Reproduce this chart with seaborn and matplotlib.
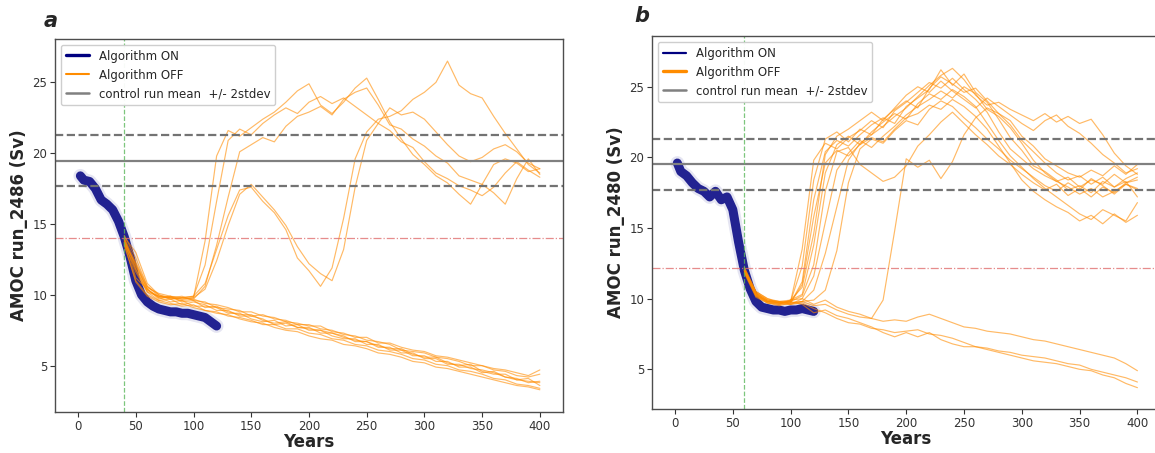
import matplotlib
matplotlib.use("Agg")
import pandas as pd
import matplotlib.pyplot as plt
import seaborn as sns
from matplotlib.lines import Line2D

sns.set_style("ticks")
plt.rcParams["font.family"] = ["DejaVu Sans"]

# ------------------------------------------------------------------
# Panel a : run_2486
# ------------------------------------------------------------------
on_years = [2, 5, 10, 15, 20, 25, 30, 35, 40, 45, 50, 55, 60, 65, 70, 75,
            80, 85, 90, 95, 100, 105, 110, 115, 120]
a_on = [18.4, 18.1, 18.0, 17.5, 16.7, 16.4, 16.0, 15.2, 14.1, 12.7, 11.0, 10.0, 9.5,
        9.2, 9.0, 8.9, 8.8, 8.8, 8.7, 8.7, 8.6, 8.5, 8.4, 8.1, 7.8]

a_off_years = list(range(40, 401, 10))
a_off = {
    "d1": [14.2, 12.6, 10.6, 9.9, 9.8, 9.9, 9.6, 9.5, 9.1, 9.0, 8.9, 8.5, 8.6, 8.3, 8.2, 7.9, 7.9, 7.6, 7.5,
           7.2, 7.1, 6.8, 6.7, 6.5, 6.1, 6.0, 5.9, 5.6, 5.5, 5.3, 5.0, 5.0, 4.7, 4.6, 4.3, 4.2, 4.4],
    "d2": [13.6, 10.9, 9.9, 9.5, 9.3, 9.4, 9.1, 8.9, 8.8, 8.5, 8.4, 8.2, 7.9, 7.9, 7.6, 7.6, 7.3, 7.2, 6.9,
           6.8, 6.5, 6.4, 6.1, 6.0, 5.8, 5.5, 5.4, 5.1, 5.0, 4.7, 4.6, 4.4, 4.1, 4.0, 3.7, 3.6, 3.4],
    "d3": [14.0, 11.8, 10.2, 9.6, 9.7, 9.3, 9.5, 9.3, 8.9, 8.9, 8.5, 8.5, 8.3, 7.9, 8.0, 7.7, 7.7, 7.3, 7.3,
           7.1, 6.7, 6.7, 6.3, 6.3, 5.9, 5.9, 5.5, 5.5, 5.1, 5.1, 4.8, 4.7, 4.5, 4.2, 4.1, 3.8, 3.9],
    "d4": [13.7, 12.2, 10.4, 9.8, 9.5, 9.6, 9.2, 9.2, 9.1, 8.7, 8.7, 8.3, 8.1, 8.2, 7.8, 7.9, 7.5, 7.5, 7.1,
           6.9, 6.9, 6.5, 6.5, 6.1, 6.1, 5.7, 5.7, 5.3, 5.3, 4.9, 4.9, 4.5, 4.6, 4.2, 4.0, 4.1, 3.6],
    "d5": [13.9, 11.2, 10.4, 9.7, 9.9, 9.5, 9.6, 9.1, 9.2, 8.8, 8.6, 8.6, 8.2, 8.0, 8.1, 7.7, 7.6, 7.5, 7.3,
           7.0, 6.8, 6.7, 6.4, 6.2, 6.2, 5.8, 5.6, 5.6, 5.2, 5.0, 5.1, 4.6, 4.4, 4.4, 4.0, 3.9, 3.8],
    "d6": [13.5, 11.0, 10.0, 9.6, 9.4, 9.2, 9.3, 8.9, 8.7, 8.6, 8.3, 8.1, 8.0, 7.7, 7.5, 7.4, 7.1, 6.9, 6.8,
           6.5, 6.4, 6.2, 5.9, 5.8, 5.6, 5.3, 5.2, 4.9, 4.8, 4.6, 4.4, 4.2, 4.0, 3.8, 3.6, 3.5, 3.3],
    "d7": [14.1, 13.0, 10.8, 10.0, 9.7, 9.8, 9.7, 9.4, 9.3, 9.1, 8.8, 8.8, 8.5, 8.4, 8.1, 8.0, 7.8, 7.8, 7.4,
           7.3, 7.0, 7.0, 6.6, 6.6, 6.3, 6.1, 6.0, 5.7, 5.6, 5.4, 5.2, 5.0, 4.8, 4.7, 4.5, 4.3, 4.7],
    "u1": [13.9, 12.0, 10.4, 9.8, 9.9, 9.7, 9.8, 13.8, 19.8, 21.6, 21.2, 21.8, 22.4, 22.9, 23.6, 24.4, 24.9,
           23.4, 22.8, 23.6, 24.6, 25.3, 23.8, 22.2, 21.0, 19.9, 19.2, 18.4, 17.9, 17.1, 16.4, 17.8, 19.2,
           19.6, 19.3, 18.7, 18.9],
    "u2": [13.7, 11.6, 10.2, 9.9, 9.7, 9.8, 9.9, 12.1, 16.6, 20.9, 21.7, 21.3, 22.1, 22.7, 23.2, 22.8, 23.6,
           24.0, 23.5, 23.9, 23.3, 22.7, 22.1, 21.6, 20.8, 20.4, 19.4, 18.6, 18.2, 17.7, 17.4, 17.0, 17.6,
           18.6, 19.4, 18.8, 18.3],
    "u3": [14.0, 12.3, 10.6, 10.0, 9.8, 9.6, 9.7, 10.6, 13.5, 16.9, 20.1, 20.6, 21.1, 20.8, 21.9, 22.6, 22.9,
           23.3, 22.7, 23.8, 24.3, 24.6, 23.4, 22.0, 21.7, 21.0, 20.5, 19.8, 19.3, 18.4, 18.1, 17.8, 17.2,
           16.4, 18.2, 19.6, 18.5],
    "v1": [13.8, 12.1, 10.5, 10.1, 9.9, 9.8, 9.9, 10.8, 13.2, 15.6, 17.4, 17.6, 16.6, 15.8, 14.6, 12.6, 11.7,
           10.6, 11.9, 15.4, 19.6, 21.5, 22.4, 22.6, 23.0, 23.8, 24.3, 25.0, 26.5, 24.8, 24.2, 23.9, 22.6,
           21.4, 20.3, 19.2, 18.6],
    "v2": [13.6, 11.8, 10.3, 9.9, 9.8, 9.7, 9.8, 10.4, 12.4, 14.9, 17.1, 17.8, 16.9, 16.0, 14.9, 13.4, 12.2,
           11.5, 11.0, 13.2, 17.6, 20.9, 22.1, 23.2, 22.7, 22.9, 22.4, 21.5, 20.6, 19.8, 19.4, 19.7, 20.3,
           20.6, 20.1, 19.3, 18.9],
}

# ------------------------------------------------------------------
# Panel b : run_2480
# ------------------------------------------------------------------
b_on = [19.6, 19.0, 18.7, 18.2, 17.8, 17.6, 17.2, 17.6, 17.0, 17.2, 16.3, 14.0, 12.0,
        10.7, 9.8, 9.4, 9.3, 9.2, 9.2, 9.1, 9.2, 9.2, 9.3, 9.2, 9.1]

b_off_years = list(range(60, 401, 10))
b_off = {
    "r1": [12.1, 10.4, 9.9, 9.7, 9.8, 13.5, 19.8, 21.0, 20.6, 21.4, 21.9, 22.6, 22.1, 23.3, 23.9, 24.6, 25.3,
           24.9, 25.6, 24.8, 24.1, 23.2, 21.8, 20.6, 19.9, 19.2, 18.7, 18.3, 18.6, 17.9, 18.4, 18.1, 18.8,
           18.2, 18.6],
    "r2": [12.0, 10.3, 9.8, 9.8, 9.7, 11.2, 17.0, 20.4, 21.2, 20.8, 21.6, 22.3, 22.8, 22.4, 23.6, 24.2, 24.8,
           26.2, 25.1, 25.9, 24.6, 23.9, 22.7, 21.4, 20.5, 19.4, 19.0, 18.4, 17.7, 18.0, 17.5, 18.3, 17.9,
           18.5, 18.9],
    "r3": [11.9, 10.2, 9.7, 9.6, 9.9, 10.3, 13.8, 18.9, 20.9, 21.5, 20.9, 21.8, 22.5, 23.1, 22.7, 23.8, 24.5,
           24.1, 24.8, 24.3, 23.6, 22.4, 21.2, 20.1, 19.3, 18.5, 17.8, 17.2, 16.6, 16.0, 15.6, 16.3, 15.9,
           15.5, 16.8],
    "r4": [12.2, 10.5, 10.0, 9.7, 9.8, 12.3, 18.4, 21.3, 21.8, 21.1, 22.0, 21.6, 22.7, 23.4, 24.0, 23.5, 24.9,
           25.7, 25.2, 24.6, 24.9, 24.0, 23.1, 22.6, 21.5, 20.8, 19.9, 19.4, 18.9, 18.6, 19.1, 18.7, 19.4,
           18.8, 19.5],
    "r5": [12.0, 10.4, 9.9, 9.8, 9.6, 10.0, 11.6, 15.4, 19.1, 20.3, 21.2, 20.7, 21.5, 22.2, 23.0, 23.6, 24.1,
           24.7, 24.2, 25.0, 24.5, 23.4, 22.9, 22.1, 21.0, 19.8, 18.9, 18.3, 17.9, 17.4, 17.8, 17.2, 17.6,
           18.1, 17.7],
    "r6": [12.1, 10.3, 9.8, 9.7, 9.7, 11.0, 15.8, 19.6, 20.5, 20.1, 20.9, 21.4, 21.1, 22.0, 22.8, 23.1, 23.7,
           23.4, 24.1, 23.6, 22.9, 22.0, 20.8, 19.6, 18.4, 17.6, 17.0, 16.5, 16.1, 15.5, 15.9, 15.3, 16.0,
           15.4, 15.9],
    "r7": [11.8, 10.1, 9.7, 9.5, 9.7, 9.8, 10.6, 13.2, 16.5, 19.8, 21.0, 21.6, 22.2, 22.9, 23.5, 24.3, 25.1,
           25.8, 26.3, 25.5, 24.4, 23.7, 23.9, 23.4, 23.0, 22.6, 23.1, 22.5, 22.9, 22.4, 22.7, 21.6, 20.3,
           19.4, 18.8],
    "r8": [12.0, 10.2, 9.8, 9.6, 9.9, 10.8, 14.6, 20.2, 21.5, 22.0, 22.6, 23.2, 22.6, 23.5, 24.4, 25.0, 24.6,
           25.4, 24.7, 24.1, 23.5, 24.2, 23.6, 23.0, 22.4, 21.9, 22.6, 23.0, 22.2, 21.7, 21.0, 20.2, 19.6,
           18.9, 19.2],
    "r9": [12.1, 10.4, 9.9, 9.8, 9.8, 10.2, 12.4, 17.6, 20.4, 20.7, 19.5, 18.9, 18.3, 18.6, 19.4, 20.8, 21.6,
           22.5, 23.2, 22.4, 21.6, 20.9, 20.1, 19.5, 18.8, 18.2, 17.7, 18.1, 17.3, 17.8, 17.2, 17.9, 17.5,
           18.2, 18.4],
    "r10": [11.9, 10.3, 9.8, 9.7, 9.6, 9.8, 9.9, 10.6, 13.4, 18.2, 20.6, 21.3, 21.0, 21.9, 22.6, 22.3, 23.4,
            24.0, 23.6, 22.8, 22.1, 21.3, 20.6, 19.8, 19.2, 18.6, 18.0, 17.6, 18.2, 17.7, 18.5, 18.0, 17.4,
            18.1, 17.8],
    "r11": [12.0, 10.3, 9.8, 9.7, 9.7, 9.8, 9.5, 9.6, 9.2, 8.9, 8.7, 8.6, 9.9, 14.8, 19.9, 19.3, 19.8,
            18.5, 19.7, 21.6, 22.8, 23.5, 23.1, 22.3, 21.2, 20.4, 19.6, 18.9, 18.4, 18.7, 18.1, 18.6, 17.9,
            18.3, 17.2],
    "k1": [12.2, 10.5, 10.0, 9.8, 9.9, 10.0, 9.6, 9.9, 9.4, 9.1, 8.9, 8.6, 8.4, 8.5, 8.4, 8.7, 8.9, 8.6, 8.3,
           8.0, 7.9, 7.7, 7.6, 7.5, 7.3, 7.1, 7.0, 6.8, 6.6, 6.4, 6.2, 6.0, 5.8, 5.4, 4.9],
    "k2": [11.9, 10.2, 9.7, 9.6, 9.6, 9.7, 9.3, 9.0, 8.6, 8.3, 8.2, 7.9, 7.8, 7.6, 7.7, 7.8, 7.5, 7.4, 7.2,
           6.9, 6.6, 6.5, 6.3, 6.2, 6.0, 5.9, 5.8, 5.6, 5.4, 5.3, 5.0, 4.8, 4.6, 4.4, 4.1],
    "k3": [12.0, 10.3, 9.8, 9.7, 9.8, 9.6, 9.0, 9.2, 8.8, 8.6, 8.3, 8.0, 7.6, 7.3, 7.6, 7.3, 7.6, 7.1, 6.8,
           6.6, 6.6, 6.4, 6.2, 6.0, 5.8, 5.6, 5.5, 5.4, 5.2, 5.0, 4.9, 4.6, 4.4, 4.0, 3.7],
}

# control run statistics and thresholds
ctrl_mean = [19.48, 19.50]
ctrl_hi = [21.31, 21.32]
ctrl_lo = [17.69, 17.66]
threshold = [14.0, 12.14]
switch_year = [40, 60]
ylims = [(1.73, 28.06), (2.19, 28.59)]
ylabels = ["AMOC run_2486 (Sv)", "AMOC run_2480 (Sv)"]
letters = ["a", "b"]


def long_form(years, runs):
    rows = []
    for name, vals in runs.items():
        for yr, v in zip(years, vals):
            rows.append({"year": yr, "amoc": v, "run": name})
    return pd.DataFrame(rows)


fig = plt.figure(figsize=(11.55, 4.53), dpi=100)
ax_a = fig.add_axes([0.0476, 0.0905, 0.4398, 0.8234])
ax_b = fig.add_axes([0.5644, 0.0971, 0.4404, 0.8234])

panels = [(ax_a, a_on, a_off_years, a_off), (ax_b, b_on, b_off_years, b_off)]

for i, (ax, on_vals, off_years, off_runs) in enumerate(panels):
    df_on = pd.DataFrame({"year": on_years, "amoc": on_vals})
    df_off = long_form(off_years, off_runs)

    # Algorithm ON ensemble (dense band)
    sns.lineplot(data=df_on, x="year", y="amoc", color="navy", lw=10, alpha=0.1, ax=ax)
    sns.lineplot(data=df_on, x="year", y="amoc", color="navy", lw=6.5, alpha=0.85, ax=ax)
    # Algorithm OFF ensemble
    sns.lineplot(data=df_off, x="year", y="amoc", units="run", estimator=None,
                 color="darkorange", lw=0.85, alpha=0.6, ax=ax, legend=False)

    ax.axhline(ctrl_mean[i], color="0.5", lw=1.6)
    ax.axhline(ctrl_hi[i], color="0.45", lw=1.6, ls="--")
    ax.axhline(ctrl_lo[i], color="0.45", lw=1.6, ls="--")
    ax.axhline(threshold[i], color="#e07070", lw=0.9, ls="-.", alpha=0.8)
    ax.axvline(switch_year[i], color="#5cb85c", lw=0.9, ls="--", alpha=0.8)

    ax.set_xlim(-20, 420)
    ax.set_ylim(*ylims[i])
    ax.set_xticks([0, 50, 100, 150, 200, 250, 300, 350, 400])
    ax.set_yticks([5, 10, 15, 20, 25])
    ax.tick_params(labelsize=8.5, colors="0.2", length=3.5, width=0.8, pad=2)
    for sp in ax.spines.values():
        sp.set_color("0.3")
        sp.set_linewidth(1.0)
    ax.set_xlabel("Years", fontsize=12, fontweight="bold", labelpad=0)
    ax.set_ylabel(ylabels[i], fontsize=12, fontweight="bold", labelpad=3)

    on_lw, off_lw = (2.4, 1.5) if i == 0 else (1.6, 2.4)
    handles = [Line2D([], [], color="navy", lw=on_lw),
               Line2D([], [], color="darkorange", lw=off_lw),
               Line2D([], [], color="0.5", lw=1.8)]
    ax.legend(handles, ["Algorithm ON", "Algorithm OFF", "control run mean  +/- 2stdev"],
              loc="upper left", fontsize=8.5, frameon=True, edgecolor="0.8", framealpha=0.95)

fig.text(0.038, 0.940, "a", fontsize=15, fontweight="bold", fontstyle="italic", va="baseline")
fig.text(0.549, 0.951, "b", fontsize=15, fontweight="bold", fontstyle="italic", va="baseline")

fig.savefig("out.png", dpi=100)
